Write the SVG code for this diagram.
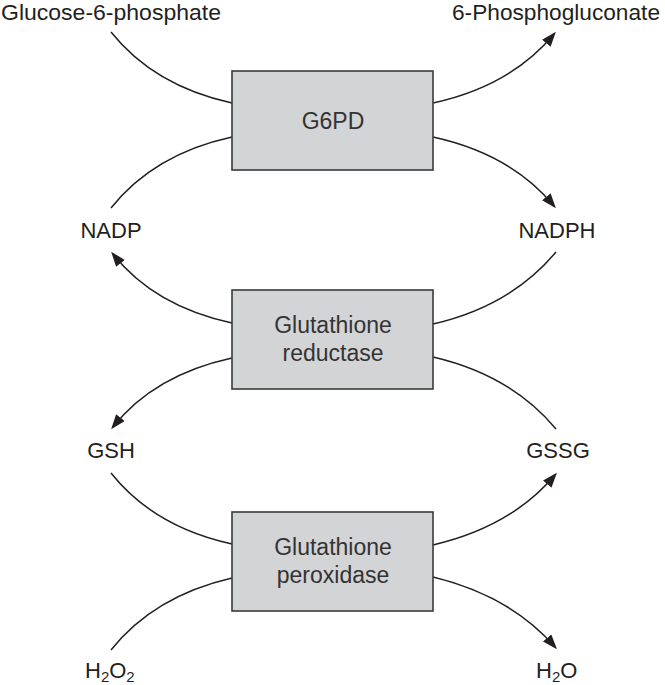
<svg xmlns="http://www.w3.org/2000/svg" width="665" height="685" viewBox="0 0 665 685">
<style>
  .lbl { font-family: "Liberation Sans", Arial, sans-serif; font-size: 22px; fill: #231f20; }
  .btxt { font-family: "Liberation Sans", Arial, sans-serif; font-size: 23px; fill: #333333; text-anchor: middle; }
  .box { fill: #d3d4d6; stroke: #3a3a3a; stroke-width: 1.6; }
  .c { fill: none; stroke: #231f20; stroke-width: 1.5; }
  .ca { fill: none; stroke: #231f20; stroke-width: 1.5; marker-end: url(#ah); }
</style>
<defs>
  <marker id="ah" markerUnits="userSpaceOnUse" markerWidth="15" markerHeight="12" refX="12" refY="5.5" orient="auto">
    <path d="M0,0 L15,5.5 L0,11 z" fill="#231f20"/>
  </marker>
</defs>
<rect width="665" height="685" fill="#ffffff"/>

<g id="connectors">
  <!-- G6PD -->
  <g transform="translate(0,71)">
    <path class="c" d="M111,-39 Q154,15 232,32"/>
    <path class="ca" d="M433,32 Q511,15 554,-37"/>
    <path class="c" d="M111,137 Q154,83 232,66"/>
    <path class="ca" d="M433,66 Q511,83 554,135"/>
  </g>
  <!-- Glutathione reductase -->
  <g transform="translate(0,290)">
    <path class="ca" d="M232,33 Q154,16 113,-36"/>
    <path class="c" d="M556,-38 Q511,16 433,34"/>
    <path class="ca" d="M232,68 Q154,85 113,137"/>
    <path class="c" d="M556,139 Q511,85 433,67"/>
  </g>
  <!-- Glutathione peroxidase -->
  <g transform="translate(0,512)">
    <path class="c" d="M111,-39 Q154,15 232,32"/>
    <path class="ca" d="M433,33 Q511,15 555,-37"/>
    <path class="c" d="M111,138 Q154,84 232,66"/>
    <path class="ca" d="M433,65 Q511,84 555,135"/>
  </g>
</g>

<g id="g6pd">
  <rect class="box" x="232" y="71" width="201" height="99"/>
  <text class="btxt" x="333" y="128.5">G6PD</text>
</g>
<g id="glutathione-reductase">
  <rect class="box" x="232" y="290" width="201" height="99"/>
  <text class="btxt" x="333" y="333">Glutathione</text>
  <text class="btxt" x="333" y="361">reductase</text>
</g>
<g id="glutathione-peroxidase">
  <rect class="box" x="232" y="512" width="201" height="99"/>
  <text class="btxt" x="333" y="555">Glutathione</text>
  <text class="btxt" x="333" y="583">peroxidase</text>
</g>

<g id="glucose-6-phosphate"><text class="lbl" x="1" y="20" textLength="220" lengthAdjust="spacingAndGlyphs">Glucose-6-phosphate</text></g>
<g id="6-phosphogluconate"><text class="lbl" x="452" y="20" textLength="208" lengthAdjust="spacingAndGlyphs">6-Phosphogluconate</text></g>
<g id="nadp"><text class="lbl" x="111" y="238" text-anchor="middle">NADP</text></g>
<g id="nadph"><text class="lbl" x="557" y="238" text-anchor="middle">NADPH</text></g>
<g id="gsh"><text class="lbl" x="111" y="458" text-anchor="middle">GSH</text></g>
<g id="gssg"><text class="lbl" x="558" y="458" text-anchor="middle">GSSG</text></g>
<g id="h2o2"><text class="lbl" x="85" y="678">H<tspan font-size="15" dy="4">2</tspan><tspan dy="-4">O</tspan><tspan font-size="15" dy="4">2</tspan></text></g>
<g id="h2o"><text class="lbl" x="536" y="678">H<tspan font-size="15" dy="4">2</tspan><tspan dy="-4">O</tspan></text></g>
</svg>
